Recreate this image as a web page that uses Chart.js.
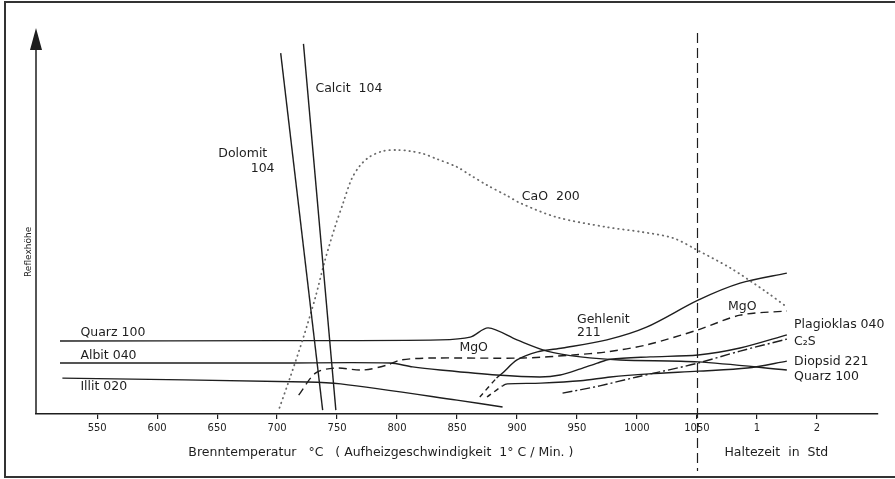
<!DOCTYPE html>
<html lang="de">
<head>
  <meta charset="UTF-8">
  <title>Reflexhöhe / Brenntemperatur</title>
  <script src="https://cdn.jsdelivr.net/npm/chart.js"></script>
  <style>
    html, body { margin: 0; padding: 0; background: #fff; }
    #wrap { width: 895px; height: 479px; }
  </style>
</head>
<body>
  <div id="wrap"><canvas id="chart" width="895" height="479"></canvas></div>

  <script>
    // x in °C, Haltezeit: 1 Std = 1100, 2 Std = 1150 auf derselben Achse
    const tickValues = [550, 600, 650, 700, 750, 800, 850, 900, 950, 1000, 1050, 1100, 1150];
    const tickLabels = ['550', '600', '650', '700', '750', '800', '850', '900', '950', '1000', '1050', '1', '2'];

    // Reflexhöhe (relative Einheiten 0..100)
    const dolomitX = [703, 738];
    const dolomitY = [93.5, 1.0];

    const calcitX = [722, 749];
    const calcitY = [95.9, 1.0];

    const caoX = [702, 711, 722, 732, 740, 748, 755, 762, 769, 777, 788, 800, 811, 822, 833, 850, 861, 875, 892, 903, 933, 975, 1003, 1030, 1050, 1078, 1108, 1125];
    const caoY = [1.6, 9.6, 19.9, 30.3, 39.9, 48.2, 54.6, 60.8, 64.3, 66.6, 68.1, 68.4, 68.1, 67.4, 66.1, 64.0, 61.9, 59.3, 56.5, 54.6, 51.0, 48.4, 47.2, 45.6, 42.5, 37.8, 31.6, 27.7];

    const quarzX = [519, 700, 836, 861, 876, 900, 925, 953, 986, 1051, 1125];
    const quarzY = [18.9, 19.0, 19.2, 19.9, 22.3, 19.2, 16.3, 14.8, 14.0, 13.5, 11.4];

    const albitX = [519, 700, 794, 813, 836, 883, 919, 936, 953, 967, 978, 1011, 1051, 1086, 1125];
    const albitY = [13.2, 13.2, 13.2, 12.2, 11.4, 10.1, 9.6, 10.1, 11.7, 13.2, 14.2, 14.8, 15.3, 17.1, 20.5];

    const illitX = [521, 725, 753, 850, 888];
    const illitY = [9.3, 8.3, 7.8, 3.6, 1.8];

    const mgoX = [718, 732, 748, 772, 792, 803, 828, 905, 947, 975, 1008, 1051, 1086, 1125];
    const mgoY = [4.9, 10.6, 11.9, 11.4, 12.7, 14.0, 14.5, 14.5, 15.3, 16.1, 17.9, 21.8, 25.6, 26.7];

    const gehlenitX = [869, 883, 888, 900, 917, 938, 975, 1008, 1051, 1086, 1125];
    const gehlenitY = [4.4, 9.3, 10.6, 14.0, 16.1, 17.1, 19.2, 22.5, 29.5, 33.9, 36.5];

    const diopsidX = [875, 888, 892, 920, 953, 978, 1010, 1051, 1092, 1125];
    const diopsidY = [4.4, 7.3, 7.8, 8.0, 8.6, 9.6, 10.4, 11.1, 11.9, 13.7];

    const c2sX = [938, 969, 1000, 1019, 1051, 1086, 1125];
    const c2sY = [5.4, 7.3, 9.6, 10.9, 13.2, 16.3, 19.4];

    // Beschriftungen an den Kurven (Datenkoordinaten, linksbündig)
    const curveLabels = [
      { text: 'Calcit  104', x: 732, y: 84.2 },
      { text: 'Dolomit', x: 651, y: 67.4 },
      { text: '104', x: 678, y: 63.5 },
      { text: 'CaO  200', x: 904, y: 56.2 },
      { text: 'Quarz 100', x: 536, y: 21.0 },
      { text: 'Albit 040', x: 536, y: 15.0 },
      { text: 'Illit 020', x: 536, y: 7.0 },
      { text: 'MgO', x: 852, y: 17.1 },
      { text: 'Gehlenit', x: 950, y: 24.4 },
      { text: '211', x: 950, y: 21.0 },
      { text: 'MgO', x: 1076, y: 27.7 },
      { text: 'Plagioklas 040', x: 1131, y: 23.1 },
      { text: 'C₂S', x: 1131, y: 18.7 },
      { text: 'Diopsid 221', x: 1131, y: 13.5 },
      { text: 'Quarz 100', x: 1131, y: 9.6 }
    ];

    const ink = '#1e1e1e';
    const labelFont = '12.5px "DejaVu Sans"';

    function pts(xs, ys) {
      return xs.map((x, i) => ({ x: x, y: ys[i] }));
    }

    function line(label, xs, ys, extra) {
      return Object.assign({
        label: label,
        data: pts(xs, ys),
        borderColor: ink,
        borderWidth: 1.4,
        pointRadius: 0,
        fill: false,
        tension: 0.3
      }, extra || {});
    }

    // erster Abschnitt gestrichelt
    const dashedStart = { borderDash: ctx => ctx.p0DataIndex === 0 ? [5, 4] : undefined };

    // Rahmen, y-Pfeil, 1050-Linie, Texte
    const decorations = {
      id: 'decorations',
      beforeDraw(chart) {
        const c = chart.ctx;
        c.save();
        c.fillStyle = '#fff';
        c.fillRect(0, 0, chart.width, chart.height);
        c.restore();
      },
      afterDraw(chart) {
        const c = chart.ctx;
        const a = chart.chartArea;
        const xs = chart.scales.x;
        const ys = chart.scales.y;
        c.save();

        // Rahmen
        c.strokeStyle = '#333';
        c.lineWidth = 2;
        c.strokeRect(5, 2, chart.width + 10, chart.height - 4);

        // y-Achse mit Pfeil
        c.strokeStyle = ink;
        c.fillStyle = ink;
        c.lineWidth = 1.5;
        c.beginPath();
        c.moveTo(a.left, a.bottom);
        c.lineTo(a.left, a.top + 20);
        c.stroke();
        c.beginPath();
        c.moveTo(a.left, a.top);
        c.lineTo(a.left - 6, a.top + 22);
        c.lineTo(a.left + 6, a.top + 22);
        c.closePath();
        c.fill();

        // Trennlinie bei 1050 °C
        const x1050 = Math.round(xs.getPixelForValue(1050)) + 0.5;
        c.setLineDash([10, 5]);
        c.lineWidth = 1.2;
        c.beginPath();
        c.moveTo(x1050, a.top + 5);
        c.lineTo(x1050, chart.height - 8);
        c.stroke();
        c.setLineDash([]);

        // Kurvenbeschriftungen
        c.font = labelFont;
        c.textAlign = 'left';
        c.textBaseline = 'middle';
        curveLabels.forEach(l => {
          c.fillText(l.text, xs.getPixelForValue(l.x), ys.getPixelForValue(l.y));
        });

        // Achsentitel
        c.fillText('Brenntemperatur   °C   ( Aufheizgeschwindigkeit  1° C / Min. )',
          xs.getPixelForValue(626), a.bottom + 39);
        c.fillText('Haltezeit  in  Std', xs.getPixelForValue(1073), a.bottom + 39);

        c.font = '9px "DejaVu Sans"';
        c.translate(a.left - 7, ys.getPixelForValue(42));
        c.rotate(-Math.PI / 2);
        c.textAlign = 'center';
        c.fillText('Reflexhöhe', 0, 0);

        c.restore();
      }
    };

    new Chart(document.getElementById('chart'), {
      type: 'line',
      data: {
        datasets: [
          line('Dolomit 104', dolomitX, dolomitY, { tension: 0 }),
          line('Calcit 104', calcitX, calcitY, { tension: 0 }),
          line('CaO 200', caoX, caoY, {
            borderColor: '#6a6a6a',
            borderWidth: 1.8,
            borderDash: [0.5, 4.5],
            borderCapStyle: 'round'
          }),
          line('Quarz 100', quarzX, quarzY),
          line('Albit 040 / Plagioklas 040', albitX, albitY),
          line('Illit 020', illitX, illitY),
          line('MgO', mgoX, mgoY, { borderDash: [8, 5] }),
          line('Gehlenit 211', gehlenitX, gehlenitY, { segment: dashedStart }),
          line('Diopsid 221', diopsidX, diopsidY, { segment: dashedStart }),
          line('C2S', c2sX, c2sY, { borderDash: [10, 3, 2, 3] })
        ]
      },
      options: {
        responsive: false,
        animation: false,
        events: [],
        layout: { padding: { left: 36, top: 28, right: 17, bottom: 0 } },
        plugins: {
          legend: { display: false },
          tooltip: { enabled: false }
        },
        scales: {
          x: {
            type: 'linear',
            min: 499,
            max: 1201,
            afterBuildTicks: scale => {
              scale.ticks = tickValues.map(v => ({ value: v }));
            },
            afterFit: scale => { scale.height = 65; },
            grid: {
              drawOnChartArea: false,
              drawTicks: true,
              tickLength: 5,
              color: ink,
              lineWidth: 1.2
            },
            border: { display: true, color: ink, width: 1.5 },
            ticks: {
              autoSkip: false,
              maxRotation: 0,
              padding: 3,
              color: ink,
              font: { family: 'DejaVu Sans', size: 10 },
              callback: (value) => tickLabels[tickValues.indexOf(value)]
            }
          },
          y: {
            display: false,
            min: 0,
            max: 100
          }
        }
      },
      plugins: [decorations]
    });
  </script>
</body>
</html>
